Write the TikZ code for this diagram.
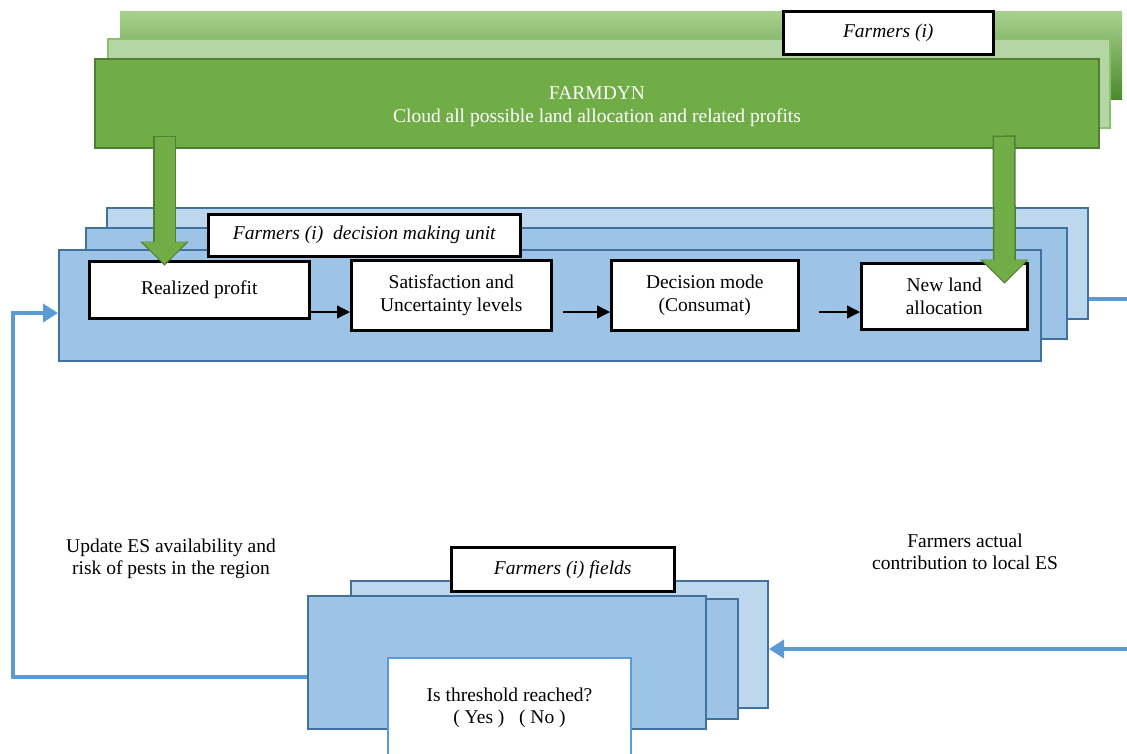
\documentclass[tikz,border=0pt]{standalone}
\usepackage{fontspec}
\setmainfont{Liberation Serif}
\usepackage{tikz}
\usetikzlibrary{shapes,arrows,positioning,arrows.meta,calc}

\definecolor{bluepale}{HTML}{BDD7EE}
\definecolor{bluemid}{HTML}{9DC3E6}
\definecolor{blueedge}{HTML}{41719C}
\definecolor{bluelink}{HTML}{5B9BD5}
\definecolor{greenfront}{HTML}{70AD47}
\definecolor{greenedge}{HTML}{507E32}
\definecolor{greenpale}{HTML}{B4D5A4}
\definecolor{greenpaleedge}{HTML}{8CC16B}
\definecolor{greentop}{HTML}{A9D18E}
\definecolor{greendark}{HTML}{4B8A2D}

\tikzset{
  stacklayer/.style={rectangle, anchor=north west, inner sep=0pt, line width=2pt},
  bluelayer/.style={stacklayer, draw=blueedge, fill=bluemid},
  stepbox/.style={rectangle, anchor=north west, inner sep=0pt, draw=black, line width=2.5pt, fill=white, align=center},
  tagbox/.style={stepbox, font=\fontsize{19.5}{22.5}\selectfont\itshape},
  flow/.style={-{Triangle[length=13pt,width=13pt]}, line width=1.3pt},
  feedback/.style={draw=bluelink, line width=4pt, -{Triangle[length=15pt,width=18pt]}},
  fatarrow/.style={draw=greenfront, line width=20pt, -{Triangle[length=22pt,width=43pt]},
    preaction={draw=greenedge, line width=23pt, -{Triangle[length=24pt,width=47pt]}, shorten >=-1.6pt, shorten <=-1.5pt}},
}

\begin{document}
\begin{tikzpicture}[x=1pt,y=-1pt, font=\fontsize{19.5}{22.5}\selectfont]
\useasboundingbox (0,0) rectangle (1127,753);

\node[stacklayer, top color=greentop, bottom color=greendark, minimum width=1002pt, minimum height=88pt] (gr3) at (119,10) {};
\node[stacklayer, draw=greenpaleedge, fill=greenpale, minimum width=1002pt, minimum height=89pt] (gr2) at (107,38) {};
\node[stacklayer, draw=greenedge, fill=greenfront, text=white, align=center, minimum width=1004pt, minimum height=89pt] (farmdyn) at (94,58) {\rule{0pt}{19pt}FARMDYN\\Cloud all possible land allocation and related profits};
\node[tagbox, minimum width=210pt, minimum height=43pt] (farmers) at (782,10) {Farmers (i)};

\node[bluelayer, fill=bluepale, minimum width=981pt, minimum height=111pt] (dmu3) at (106,207) {};
\node[bluelayer, minimum width=981pt, minimum height=111pt] (dmu2) at (85,227) {};
\node[bluelayer, minimum width=982pt, minimum height=111pt] (dmu1) at (58,249) {};
\node[tagbox, minimum width=312pt, minimum height=42pt] (dmulabel) at (207,213) {Farmers (i)\ \ decision making unit};

\node[stepbox, minimum width=220pt, minimum height=57pt] (realized) at (88,260) {Realized profit};
\node[stepbox, minimum width=200pt, minimum height=70pt] (satisf) at (350,259) {Satisfaction and\\Uncertainty levels};
\node[stepbox, minimum width=187pt, minimum height=70pt] (decision) at (610,259) {Decision mode\\(Consumat)};
\node[stepbox, minimum width=166pt, minimum height=66pt] (newland) at (860,262) {New land\\allocation};

\coordinate (row) at (0,312);
\draw[flow] (realized.east |- row) -- (satisf.west |- row);
\draw[flow] ($(satisf.east |- row)+(10,0)$) -- (decision.west |- row);
\draw[flow] ($(decision.east |- row)+(19,0)$) -- (newland.west |- row);

\draw[fatarrow] ($(farmdyn.south west)+(70.5,-12)$) -- ($(realized.north west)+(76.5,4)$);
\draw[fatarrow] ($(farmdyn.south east)+(-96,-12)$) -- ($(newland.north east)+(-24,20)$);

\node[bluelayer, fill=bluepale, minimum width=417pt, minimum height=127pt] (fld3) at (350,580) {};
\node[bluelayer, minimum width=407pt, minimum height=120pt] (fld2) at (330,598) {};
\node[bluelayer, minimum width=398pt, minimum height=133pt] (fld1) at (307,595) {};
\node[tagbox, minimum width=223pt, minimum height=44pt] (fldlabel) at (450,546) {Farmers (i) fields};
\node[stepbox, draw=bluelink, line width=2pt, minimum width=243pt, minimum height=100pt] (threshold) at (387,657) {Is threshold reached?\\( Yes )\ \ \ ( No )};

\node[align=center] (updatetxt) at (171,559) {Update ES availability and\\risk of pests in the region};
\node[align=center] (contribtxt) at (965,552) {Farmers actual\\contribution to local ES};

\coordinate (loopbot) at (13,677);
\coordinate (looptop) at (13,313);
\draw[feedback] (fld1.west |- loopbot) -- (loopbot) -- (looptop) -- (dmu1.west |- looptop);
\coordinate (outtop) at (1127,299);
\draw[feedback,-] (dmu3.east |- outtop) -- (outtop);
\coordinate (outbot) at (1127,649);
\draw[feedback] (outbot) -- (fld3.east |- outbot);
\end{tikzpicture}
\end{document}
